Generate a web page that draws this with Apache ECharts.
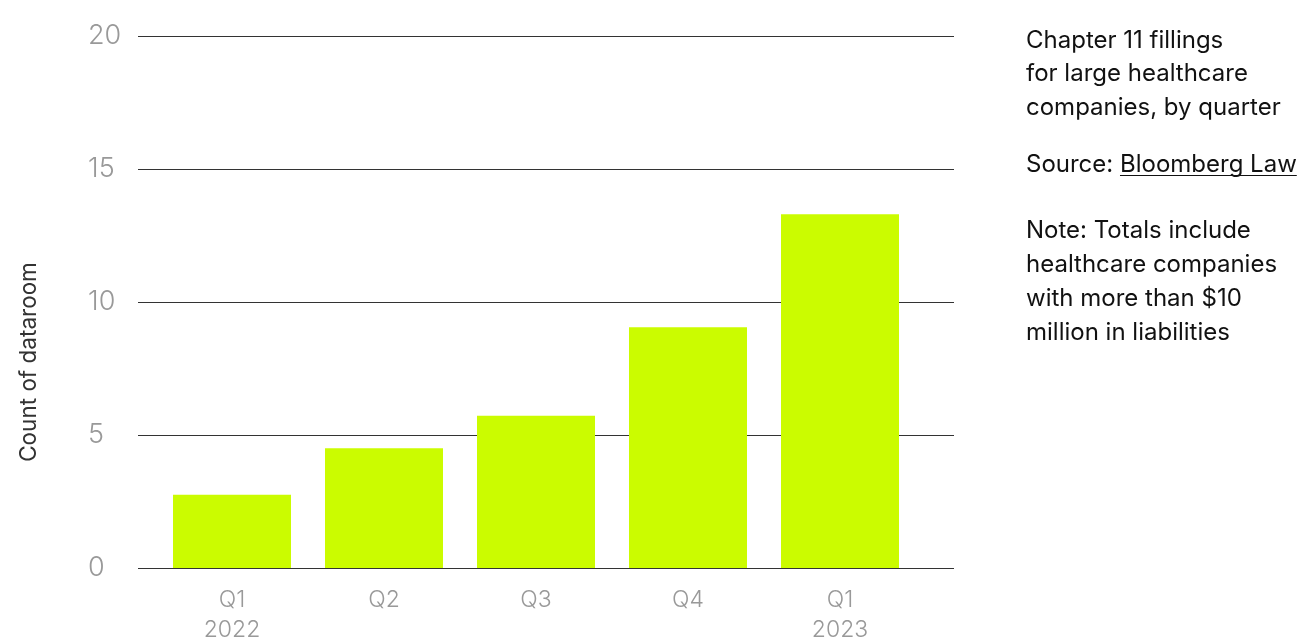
<!DOCTYPE html>
<html>
<head>
<meta charset="utf-8">
<script src="https://cdn.jsdelivr.net/npm/echarts@6/dist/echarts.min.js"></script>
<style>
  html, body { margin: 0; padding: 0; background: #fff; }
  #chart { width: 1304px; height: 641px; }
</style>
</head>
<body>
<div id="chart"></div>
<script>
const quarters = ['Q1\n2022', 'Q2', 'Q3', 'Q4', 'Q1\n2023'];
const filings = [2.75, 4.5, 5.72, 9.05, 13.3];
const yTicks = { min: 0, max: 20, interval: 5 };

const chart = echarts.init(document.getElementById('chart'));
const fontFamily = 'Inter, "Noto Sans", sans-serif';
const noteFont = '400 24px ' + fontFamily;

// measure where the underlined link starts / ends
const ctx = document.createElement('canvas').getContext('2d');
ctx.font = noteFont;
const srcPrefixW = ctx.measureText('Source: ').width;
const srcLinkW = ctx.measureText('Bloomberg Law').width;
const textLeft = 1026;

const option = {
  backgroundColor: '#fff',
  animation: false,
  grid: [
    // lines + y labels
    { left: 138, right: 350, top: 36, bottom: 73, outerBoundsMode: 'none' },
    // bars
    { left: 156, right: 388, top: 36, bottom: 73, outerBoundsMode: 'none' }
  ],
  xAxis: [
    { gridIndex: 0, type: 'value', show: false },
    {
      gridIndex: 1,
      type: 'category',
      data: quarters,
      axisLine: { show: false },
      axisTick: { show: false },
      axisLabel: {
        color: '#999',
        fontSize: 23,
        fontWeight: 300,
        fontFamily: fontFamily,
        lineHeight: 30,
        margin: 17
      }
    }
  ],
  yAxis: [
    {
      gridIndex: 0,
      type: 'value',
      min: yTicks.min,
      max: yTicks.max,
      interval: yTicks.interval,
      name: 'Count of dataroom',
      nameLocation: 'middle',
      nameGap: 97,
      nameRotate: 90,
      nameTextStyle: {
        color: '#333',
        fontSize: 22.5,
        fontFamily: fontFamily,
        padding: [0, 120, 0, 0]
      },
      axisLine: { show: false },
      axisTick: { show: false },
      splitLine: { lineStyle: { color: '#333', width: 1 } },
      axisLabel: {
        color: '#999',
        fontSize: 27,
        fontWeight: 300,
        fontFamily: fontFamily,
        align: 'left',
        margin: 50,
        verticalAlign: 'middle',
        padding: [0, 0, 22, 0]
      }
    },
    {
      gridIndex: 1,
      type: 'value',
      min: yTicks.min,
      max: yTicks.max,
      interval: yTicks.interval,
      show: false
    }
  ],
  series: [{
    type: 'bar',
    xAxisIndex: 1,
    yAxisIndex: 1,
    data: filings,
    barWidth: 118,
    itemStyle: { color: '#cbfc00' }
  }],
  graphic: [
    {
      type: 'text',
      left: textLeft,
      top: 24,
      style: {
        text: 'Chapter 11 fillings\nfor large healthcare\ncompanies, by quarter',
        font: noteFont,
        lineHeight: 33.5,
        fill: '#111'
      }
    },
    {
      type: 'text',
      left: textLeft,
      top: 148,
      style: {
        text: 'Source: Bloomberg Law',
        font: noteFont,
        lineHeight: 33.5,
        fill: '#111'
      }
    },
    {
      type: 'line',
      shape: { x1: textLeft + srcPrefixW, y1: 175.5, x2: textLeft + srcPrefixW + srcLinkW, y2: 175.5 },
      style: { stroke: '#111', lineWidth: 1 }
    },
    {
      type: 'text',
      left: textLeft,
      top: 214,
      style: {
        text: 'Note: Totals include\nhealthcare companies\nwith more than $10\nmillion in liabilities',
        font: noteFont,
        lineHeight: 34,
        fill: '#111'
      }
    }
  ]
};

chart.setOption(option);
</script>
</body>
</html>
